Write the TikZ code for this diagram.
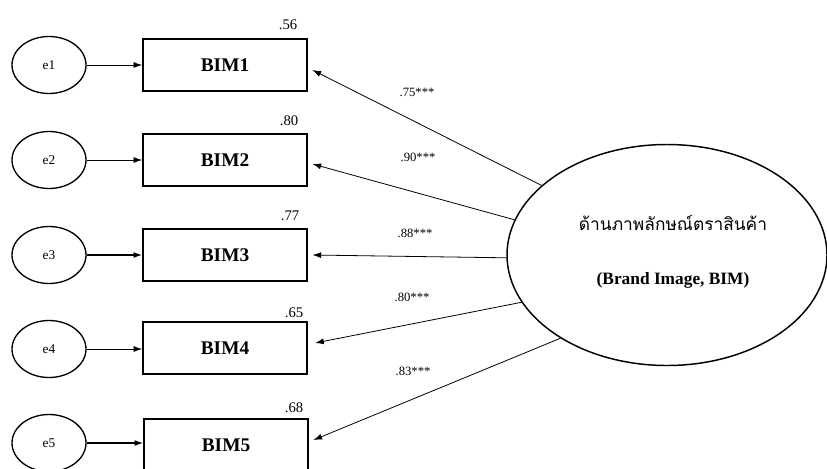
\documentclass[tikz,border=0pt]{standalone}
\usepackage{fontspec}
\setmainfont{Liberation Serif}
\newfontfamily\thaifont[Script=Thai]{Loma}
\usetikzlibrary{arrows.meta,shapes.geometric,calc}

\begin{document}
\begin{tikzpicture}[x=0.75pt,y=-0.75pt,
  errvar/.style={draw,ellipse,line width=1pt,minimum width=55.5pt,minimum height=42.75pt,inner sep=0pt,font=\fontsize{10}{12}\selectfont},
  indicator/.style={draw,rectangle,line width=1.2pt,minimum width=123pt,minimum height=39pt,inner sep=0pt,font=\fontsize{14.5}{16}\selectfont\bfseries},
  latentvar/.style={draw,ellipse,line width=1.1pt,minimum width=240pt,minimum height=165.75pt,inner sep=0pt},
  tipstyle/.style={-{Latex[length=6.5pt,width=4.5pt]}},
  errarrow/.style={tipstyle,line width=0.6pt},
  errarrowbold/.style={tipstyle,line width=1pt},
  loading/.style={tipstyle,line width=0.6pt},
  coef/.style={inner sep=0pt,font=\fontsize{9.5}{11}\selectfont},
  rsq/.style={inner sep=0pt,font=\fontsize{11}{13}\selectfont}]
\useasboundingbox (0,0) rectangle (827,468);

% observed indicators
\node[indicator] (b1) at (225,65)  {BIM1};
\node[indicator] (b2) at (225,160) {BIM2};
\node[indicator] (b3) at (225,255) {BIM3};
\node[indicator] (b4) at (225,348) {BIM4};
\node[indicator] (b5) at (226,445) {BIM5};

% error terms
\node[errvar] (e1) at (49,65)  {e1};
\node[errvar] (e2) at (49,160) {e2};
\node[errvar] (e3) at (49,255) {e3};
\node[errvar] (e4) at (49,349) {e4};
\node[errvar] (e5) at (49,443) {e5};

\draw[errarrow]     (e1) -- (b1);
\draw[errarrow]     (e2) -- (b2);
\draw[errarrowbold] (e3) -- (b3);
\draw[errarrow]     (e4) -- (b4.west |- e4);
\draw[errarrowbold] (e5) -- (b5.west |- e5);

% squared multiple correlations
\node[rsq] (r1) at (288,25)  {.56};
\node[rsq] (r2) at (289,121) {.80};
\node[rsq] (r3) at (290,216) {.77};
\node[rsq] (r4) at (294,313) {.65};
\node[rsq] (r5) at (294,408) {.68};

% latent factor
\node[latentvar] (f) at (667,255) {};
\node[inner sep=0pt,font=\thaifont\fontsize{13}{15}\selectfont] (ft) at (673,223) {ด้านภาพลักษณ์ตราสินค้า};
\node[inner sep=0pt,font=\fontsize{13}{15}\selectfont\bfseries] (fe) at (673,280) {(Brand Image, BIM)};

% factor loadings
\draw[loading] (f.151) -- ([xshift=3.5pt,yshift=-3.75pt]b1.east);
\draw[loading] (f.167) -- ([xshift=3.5pt,yshift=-3pt]b2.east);
\draw[loading] (f.181) -- ([xshift=3.5pt,yshift=0pt]b3.east);
\draw[loading] (f.198) -- ([xshift=5.5pt,yshift=3.75pt]b4.east);
\draw[loading] (f.218) -- ([xshift=3.5pt,yshift=3.75pt]b5.east);

\node[coef] (c1) at (417,92)  {.75***};
\node[coef] (c2) at (418,157) {.90***};
\node[coef] (c3) at (415,233) {.88***};
\node[coef] (c4) at (412,297) {.80***};
\node[coef] (c5) at (413,371) {.83***};
\end{tikzpicture}
\end{document}
